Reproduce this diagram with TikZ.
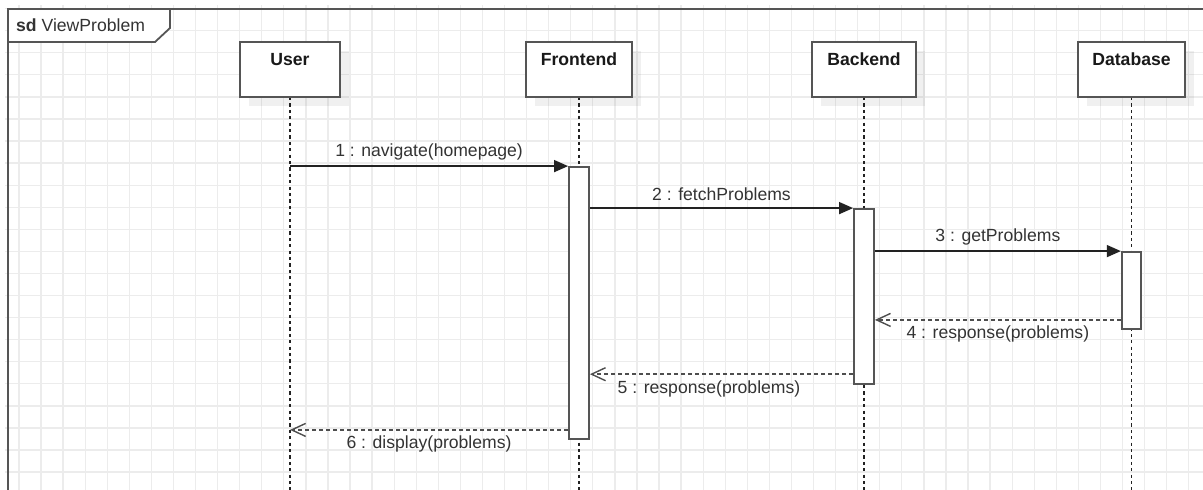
\documentclass[tikz,border=0pt]{standalone}
\usepackage{fontspec}
\setmainfont{Liberation Sans}
\usetikzlibrary{arrows.meta,shadows}

\definecolor{gridc}{HTML}{ECECEC}
\definecolor{linec}{HTML}{222222}
\definecolor{boxc}{HTML}{555555}
\definecolor{textc}{HTML}{333333}

\tikzset{
  gridline/.style={draw=gridc, line width=1.3pt},
  frameline/.style={draw=boxc, line width=1.8pt},
  lifebox/.style={draw=boxc, line width=1.8pt, fill=white, rectangle,
    minimum height=55.5pt, inner sep=0pt,
    drop shadow={shadow xshift=9pt, shadow yshift=-9pt, fill=black, opacity=0.06}},
  lname/.style={font=\fontsize{17.6}{20}\selectfont\bfseries, text=black!90},
  lifeline/.style={draw=linec, line width=1.6pt, dash pattern=on 3.2pt off 3.2pt},
  actbar/.style={draw=boxc, line width=1.8pt, fill=white, rectangle, inner sep=0pt, minimum width=20pt},
  sync/.style={draw=linec, line width=1.5pt, -{Triangle[length=14pt, width=12pt]}},
  reply/.style={draw=linec!80, line width=1.5pt, dash pattern=on 4pt off 3pt,
    -{Straight Barb[length=14pt, width=13pt, line width=1.4pt]}},
  msg/.style={font=\fontsize{17.6}{20}\selectfont, text=textc, inner sep=0pt}
}

\begin{document}
\begin{tikzpicture}[x=1pt, y=-1pt]
\useasboundingbox (0,0) rectangle (1203,490);

% background grid
\foreach \k in {1,...,54}
  \draw[gridline] ({-3.07+22.07*\k},5) -- ({-3.07+22.07*\k},490);
\foreach \k in {0,...,21}
  \draw[gridline] (5,{8.6+22.07*\k}) -- (1203,{8.6+22.07*\k});

% sequence diagram frame with its name tab
\draw[frameline] (8,490) -- (8,9) -- (1203,9);
\draw[frameline, fill=white] (8,9) -- (170,9) -- (170,28) -- (155,42) -- (8,42) -- cycle;
\node[msg, anchor=west] (sdname) at (16,25.5) {\textbf{sd}\ ViewProblem};

% lifeline ends at the bottom edge
\coordinate (userend) at (290,490);
\coordinate (feend) at (579,490);
\coordinate (beend) at (864,490);
\coordinate (dbend) at (1131.5,490);

% dashed lifelines
\draw[lifeline] (290,97) -- (userend);
\draw[lifeline] (579,97) -- (feend);
\draw[lifeline] (864,97) -- (beend);
\draw[lifeline] (1131.5,97) -- (dbend);

% lifeline heads
\node[lifebox, minimum width=100pt] (user) at (290,69.6) {};
\node[lifebox, minimum width=105.5pt] (fe) at (579,69.6) {};
\node[lifebox, minimum width=104pt] (be) at (864,69.6) {};
\node[lifebox, minimum width=107.5pt] (db) at (1131.5,69.6) {};
\path (user.north) ++(0,18.5) node[lname] (usern) {User};
\path (fe.north) ++(0,18.5) node[lname] (fen) {Frontend};
\path (be.north) ++(0,18.5) node[lname] (ben) {Backend};
\path (db.north) ++(0,18.5) node[lname] (dbn) {Database};

% activation bars
\node[actbar, minimum height=272pt] (fa) at (579,303) {};
\node[actbar, minimum height=175pt] (ba) at (864,296.5) {};
\node[actbar, minimum height=77pt, minimum width=19.5pt] (da) at (1131.5,290.5) {};

% calls
\draw[sync] (user |- fa.north west) -- (fa.north west)
  node[msg, midway, yshift=13.7pt] (m1) {1 : navigate(homepage)};
\draw[sync] (fa.east |- ba.north west) -- (ba.north west)
  node[msg, midway, yshift=13.7pt] (m2) {2 : fetchProblems};
\draw[sync] (ba.east |- da.north west) -- (da.north west)
  node[msg, midway, yshift=14pt] (m3) {3 : getProblems};

% returns
\coordinate (r4) at ([yshift=10pt]da.south west);
\coordinate (r5) at ([yshift=10.7pt]ba.south west);
\coordinate (r6) at ([yshift=10pt]fa.south west);
\draw[reply] (r4) -- (ba.east |- r4)
  node[msg, midway, yshift=-14pt] (m4) {4 : response(problems)};
\draw[reply] (r5) -- (fa.east |- r5)
  node[msg, midway, yshift=-14.4pt, xshift=-12.5pt] (m5) {5 : response(problems)};
\draw[reply] (r6) -- (user |- r6)
  node[msg, midway, yshift=-13.7pt] (m6) {6 : display(problems)};
\end{tikzpicture}
\end{document}
